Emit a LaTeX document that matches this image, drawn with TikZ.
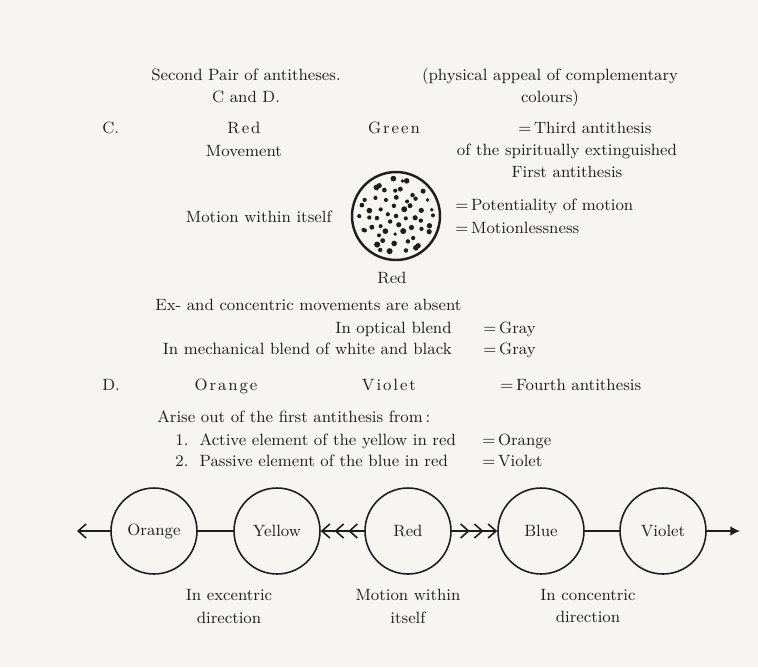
\documentclass[tikz,border=0pt]{standalone}
\usepackage{fontspec}
\usetikzlibrary{arrows.meta, calc, positioning}
\definecolor{paper}{RGB}{246,245,241}
\definecolor{ink}{RGB}{30,30,30}
\newcommand{\ls}{\kern1.1pt}

\begin{document}
\begin{tikzpicture}[x=0.02cm, y=-0.02cm, line cap=round, line join=round,
	font=\fontsize{9.3}{11}\selectfont, color=ink,
	txt/.style={inner sep=0pt, anchor=base},
	txtl/.style={inner sep=0pt, anchor=base west},
	txtr/.style={inner sep=0pt, anchor=base east},
	ring/.style={draw=ink, line width=0.9pt, circle, minimum size=1.72cm, inner sep=0pt},
	dotdisc/.style={draw=ink, line width=1.4pt, circle, minimum size=1.76cm, inner sep=0pt},
	link/.style={draw=ink, line width=0.9pt},
	chev/.style={link, -{Straight Barb[length=4.5pt,width=8pt,sep=2.2pt]
			Straight Barb[length=4.5pt,width=8pt,sep=2.2pt]
			Straight Barb[length=4.5pt,width=8pt]}}]
	
	% page
	\fill[paper] (0,0) rectangle (758,667);
	
	%========================
	% heading
	%========================
	\node[txt] (head1) at (246,80) {Second Pair of antitheses.};
	\node[txt] (head2) at (246,102) {C and D.};
	\node[txt] (phys1) at (550,80) {(physical appeal of complementary};
	\node[txt] (phys2) at (550,102) {colours)};
	
	%========================
	% C: red -- green
	%========================
	\node[txtl] (labC) at (102,133) {C.};
	\node[txt] (cRed) at (244,133) {R\ls e\ls d};
	\node[txt] (cGreen) at (394,133) {G\ls r\ls e\ls e\ls n};
	\node[txtl] (third) at (518,133) {=\,Third antithesis};
	\node[txt] (move) at (244,156) {Movement};
	\node[txt] (spirit) at (567,155) {of the spiritually extinguished};
	\node[txt] (first) at (567,177) {First antithesis};
	
	% dotted disc
	\node[dotdisc] (dots) at (396,216) {};
	\pgfmathsetseed{11}
	\foreach \rr/\nn/\off in {0/1/0, 9/6/15, 18/12/0, 27/17/7, 36/22/0}{
		\foreach \k in {1,...,\nn}{
			\pgfmathsetmacro\ang{360/\nn*\k+\off+rand*8}
			\pgfmathsetmacro\dr{\rr+rand*1.8}
			\pgfmathsetmacro\ds{1.05+0.7*rnd}
			\fill[ink] ($(dots)+(\ang:\dr)$) circle (\ds pt);
		}
	}
	\node[txtr] (within) at (332,222) {Motion within itself};
	\node[txtl] (potent) at (455,210) {=\,Potentiality of motion};
	\node[txtl] (still) at (455,233) {=\,Motionlessness};
	\node[txt] (dRed) at (392,283) {Red};
	
	\node[txtl] (absent) at (155,310) {Ex- and concentric movements are absent};
	\node[txtr] (optic) at (452,333) {In optical blend};
	\node[txtl] (gray1) at (483,333) {=\,Gray};
	\node[txtr] (mech) at (452,354) {In mechanical blend of white and black};
	\node[txtl] (gray2) at (483,354) {=\,Gray};
	
	%========================
	% D: orange -- violet
	%========================
	\node[txtl] (labD) at (102,390) {D.};
	\node[txt] (dOrange) at (226,390) {O\ls r\ls a\ls n\ls g\ls e};
	\node[txt] (dViolet) at (389,390) {V\ls i\ls o\ls l\ls e\ls t};
	\node[txtl] (fourth) at (500,390) {=\,Fourth antithesis};
	\node[txtl] (arise) at (157,422) {Arise out of the first antithesis from\,:};
	\node[txtl] (act) at (175,445) {1.\ \ Active element of the yellow in red};
	\node[txtl] (eqOr) at (482,445) {=\,Orange};
	\node[txtl] (pas) at (175,466) {2.\ \ Passive element of the blue in red};
	\node[txtl] (eqVi) at (482,466) {=\,Violet};
	
	%========================
	% row of circles
	%========================
	\node[ring] (orange) at (154,531) {Orange};
	\node[ring] (yellow) at (277,531) {Yellow};
	\node[ring] (red) at (408,531) {Red};
	\node[ring] (blue) at (541,531) {Blue};
	\node[ring] (violet) at (663,531) {Violet};
	\coordinate (endL) at (77,531);
	\coordinate (endR) at (740,531);
	
	\draw[link, -{Straight Barb[length=4.5pt,width=8pt]}] (orange) -- (endL);
	\draw[link] (orange) -- (yellow);
	\draw[chev] (red) -- (yellow);
	\draw[chev] (red) -- (blue);
	\draw[link] (blue) -- (violet);
	\draw[link, -{Latex[length=5.5pt,width=5.5pt]}] (violet) -- (endR);
	
	\node[txt] (exc1) at (229,600) {In excentric};
	\node[txt] (exc2) at (229,623) {direction};
	\node[txt] (mot1) at (408,600) {Motion within};
	\node[txt] (mot2) at (408,623) {itself};
	\node[txt] (con1) at (588,600) {In concentric};
	\node[txt] (con2) at (588,622) {direction};
	
\end{tikzpicture}
\end{document}
